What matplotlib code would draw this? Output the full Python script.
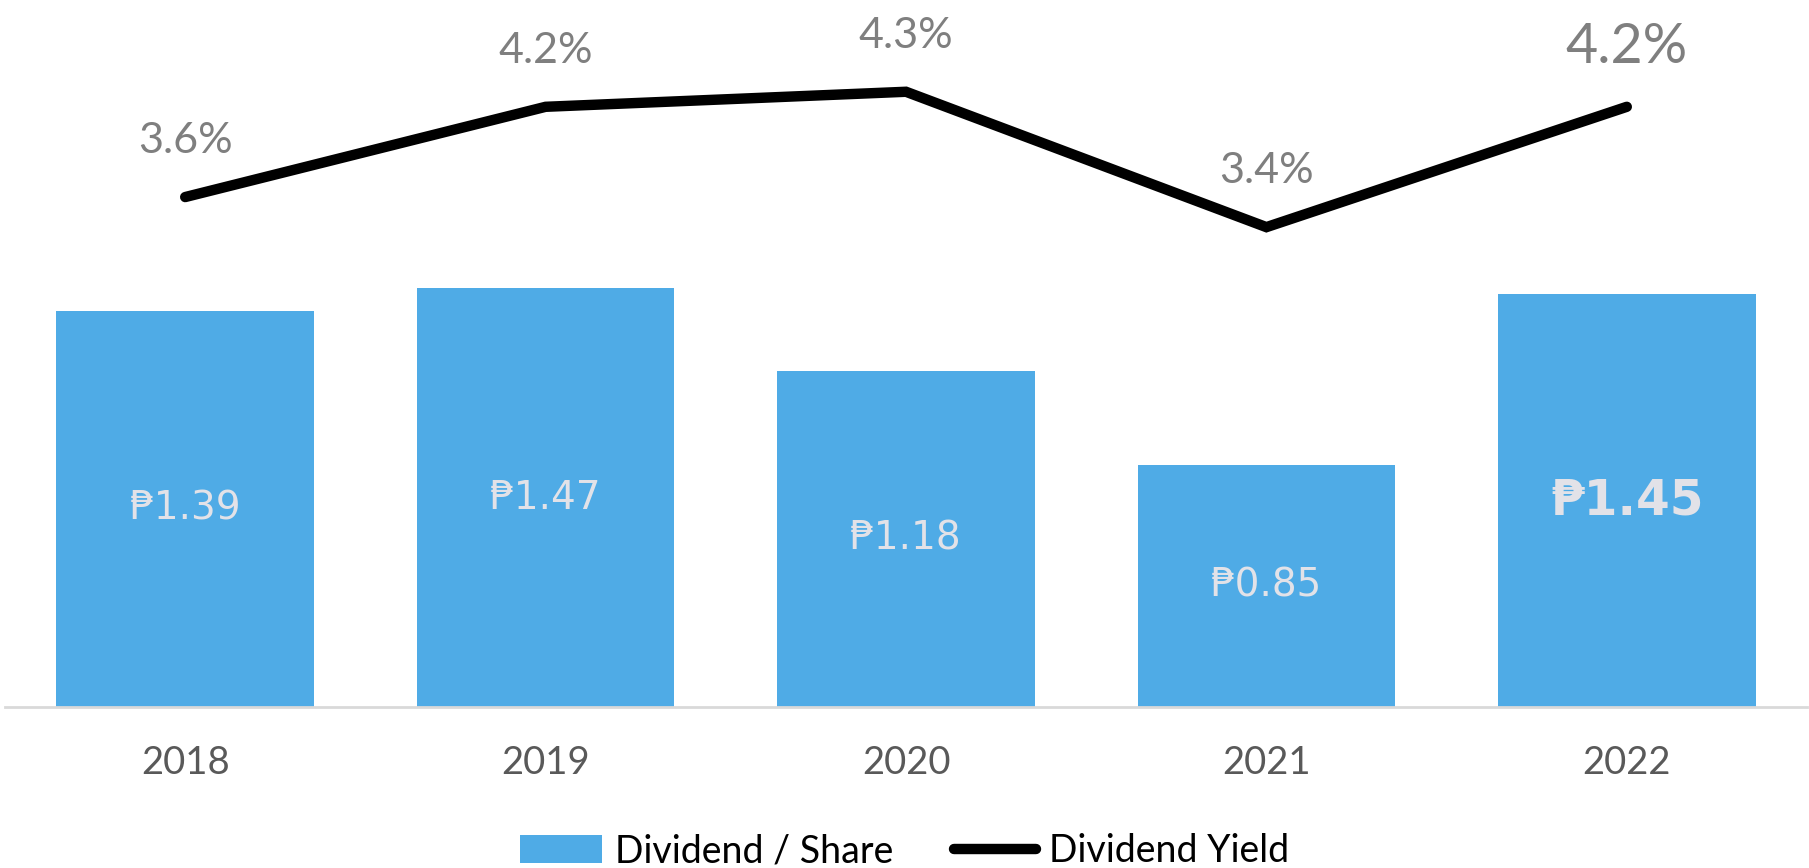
import matplotlib
matplotlib.use("Agg")
import matplotlib.pyplot as plt
from matplotlib.patches import Patch
from matplotlib.lines import Line2D

years = ["2018", "2019", "2020", "2021", "2022"]
dividend_per_share = [1.39, 1.47, 1.18, 0.85, 1.45]
dividend_yield = [3.6, 4.2, 4.3, 3.4, 4.2]

BAR_COLOR = "#4FABE6"
plt.rcParams["font.family"] = ["Lato", "DejaVu Sans"]

fig = plt.figure(figsize=(18.09, 8.68), dpi=100)
ax = fig.add_axes([5 / 1809, 1 - 707 / 868, 1802 / 1809, 707 / 868])

x = list(range(len(years)))
ax.bar(x, dividend_per_share, width=0.715, color=BAR_COLOR, zorder=2)
ax.set_xlim(-0.5, 4.5)
ax.set_ylim(0, 2.481)

for i, v in enumerate(dividend_per_share):
    last = i == len(dividend_per_share) - 1
    ax.text(i, v / 2, f"\u20b1{v:.2f}", ha="center", va="center",
            fontsize=35 if last else 28, fontweight="bold" if last else "normal",
            color="#E2E2E8", family=["DejaVu Sans"], zorder=3)

for s in ["top", "right", "left"]:
    ax.spines[s].set_visible(False)
ax.spines["bottom"].set_color("#D9D9D9")
ax.spines["bottom"].set_linewidth(2)
ax.set_yticks([])
ax.set_xticks(x)
ax.set_xticklabels(years, fontsize=27.5, color="#595959")
ax.tick_params(axis="x", length=0, pad=27)

ax2 = ax.twinx()
ax2.plot(x, dividend_yield, color="black", linewidth=7.5,
         solid_capstyle="round", solid_joinstyle="miter", zorder=4)
ax2.set_ylim(0.21, 4.91)
ax2.set_yticks([])
for s in ["top", "right", "left", "bottom"]:
    ax2.spines[s].set_visible(False)

for i, v in enumerate(dividend_yield):
    last = i == len(dividend_yield) - 1
    ax2.annotate(f"{v:.1f}%", (i, v), xytext=(0, 42.5 if last else 40.5),
                 textcoords="offset points", ha="center", va="center",
                 fontsize=40 if last else 31, color="#7F7F7F")

handles = [Patch(facecolor=BAR_COLOR, edgecolor="none"),
           Line2D([0], [0], color="black", linewidth=7.5, solid_capstyle="round")]
fig.legend(handles, ["Dividend / Share", "Dividend Yield"], loc="center",
           bbox_to_anchor=(0.5, 1 - 851 / 868), ncol=2, frameon=False,
           fontsize=27, handlelength=2.2, handleheight=0.75,
           handletextpad=0.35, columnspacing=1.6, borderaxespad=0, borderpad=0)

fig.savefig("out.png", dpi=100)
